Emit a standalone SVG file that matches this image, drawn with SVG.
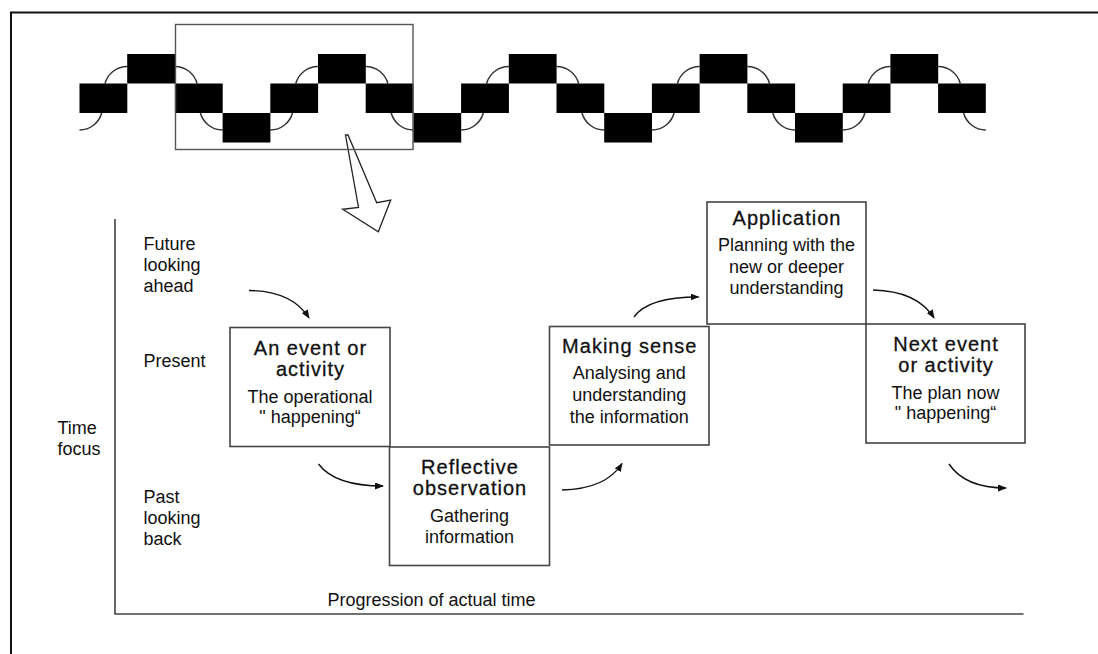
<svg xmlns="http://www.w3.org/2000/svg" width="1098" height="654" viewBox="0 0 1098 654">
  <defs>
    <style>
      .blk { fill: #000; }
      .arc { fill: none; stroke: #333; stroke-width: 1.5; }
      .box { fill: #fff; stroke: #444; stroke-width: 1.6; }
      .ttl { font-family: "Liberation Sans", Arial, sans-serif; font-size: 20px; letter-spacing: 1px; fill: #111; stroke: #111; stroke-width: 0.3; text-anchor: middle; }
      .sub { font-family: "Liberation Sans", Arial, sans-serif; font-size: 18px; fill: #111; text-anchor: middle; }
      .lbl { font-family: "Liberation Sans", Arial, sans-serif; font-size: 18px; fill: #111; }
      .con { fill: none; stroke: #111; stroke-width: 1.4; marker-end: url(#ah); }
      .axis { fill: none; stroke: #444; stroke-width: 1.6; }
    </style>
    <marker id="ah" markerWidth="9" markerHeight="7" refX="8" refY="3.5" orient="auto" markerUnits="userSpaceOnUse">
      <path d="M0,0 L9,3.5 L0,7 z" fill="#111"/>
    </marker>
  </defs>
  <rect x="0" y="0" width="1098" height="654" fill="#fff"/>
  <!-- outer frame -->
  <path d="M11,654 V12.5 H1098" fill="none" stroke="#111" stroke-width="2"/>

  <!-- top strip -->
  <g id="strip">
    <g class="arcs">
      <path class="arc" d="M79.5,130 A23,23 0 0 0 101.7,113"/>
      <path class="arc" d="M105,83.5 A23,23 0 0 1 127.2,66.5"/>
      <path class="arc" d="M174.9,66.5 A23,23 0 0 1 197.1,83.5"/>
      <path class="arc" d="M200.4,113 A23,23 0 0 0 222.6,130"/>
      <path class="arc" d="M270.3,130 A23,23 0 0 0 292.5,113"/>
      <path class="arc" d="M295.8,83.5 A23,23 0 0 1 318,66.5"/>
      <path class="arc" d="M365.7,66.5 A23,23 0 0 1 387.9,83.5"/>
      <path class="arc" d="M391.2,113 A23,23 0 0 0 413.4,130"/>
      <path class="arc" d="M461.1,130 A23,23 0 0 0 483.3,113"/>
      <path class="arc" d="M486.6,83.5 A23,23 0 0 1 508.8,66.5"/>
      <path class="arc" d="M556.5,66.5 A23,23 0 0 1 578.7,83.5"/>
      <path class="arc" d="M582,113 A23,23 0 0 0 604.2,130"/>
      <path class="arc" d="M651.9,130 A23,23 0 0 0 674.1,113"/>
      <path class="arc" d="M677.4,83.5 A23,23 0 0 1 699.6,66.5"/>
      <path class="arc" d="M747.3,66.5 A23,23 0 0 1 769.5,83.5"/>
      <path class="arc" d="M772.8,113 A23,23 0 0 0 795,130"/>
      <path class="arc" d="M842.7,130 A23,23 0 0 0 864.9,113"/>
      <path class="arc" d="M868.2,83.5 A23,23 0 0 1 890.4,66.5"/>
      <path class="arc" d="M938.1,66.5 A23,23 0 0 1 960.3,83.5"/>
      <path class="arc" d="M963.6,113 A23,23 0 0 0 985.8,130"/>
    </g>
    <g class="blocks">
      <rect class="blk" x="79.5" y="83.5" width="47.8" height="29.5"/>
      <rect class="blk" x="127.2" y="54" width="47.8" height="29.5"/>
      <rect class="blk" x="174.9" y="83.5" width="47.8" height="29.5"/>
      <rect class="blk" x="222.6" y="113" width="47.8" height="29.5"/>
      <rect class="blk" x="270.3" y="83.5" width="47.8" height="29.5"/>
      <rect class="blk" x="318" y="54" width="47.8" height="29.5"/>
      <rect class="blk" x="365.7" y="83.5" width="47.8" height="29.5"/>
      <rect class="blk" x="413.4" y="113" width="47.8" height="29.5"/>
      <rect class="blk" x="461.1" y="83.5" width="47.8" height="29.5"/>
      <rect class="blk" x="508.8" y="54" width="47.8" height="29.5"/>
      <rect class="blk" x="556.5" y="83.5" width="47.8" height="29.5"/>
      <rect class="blk" x="604.2" y="113" width="47.8" height="29.5"/>
      <rect class="blk" x="651.9" y="83.5" width="47.8" height="29.5"/>
      <rect class="blk" x="699.6" y="54" width="47.8" height="29.5"/>
      <rect class="blk" x="747.3" y="83.5" width="47.8" height="29.5"/>
      <rect class="blk" x="795" y="113" width="47.8" height="29.5"/>
      <rect class="blk" x="842.7" y="83.5" width="47.8" height="29.5"/>
      <rect class="blk" x="890.4" y="54" width="47.8" height="29.5"/>
      <rect class="blk" x="938.1" y="83.5" width="47.7" height="29.5"/>
    </g>
    <!-- hollow zoom arrow -->
    <polygon points="345.5,135 358.5,207.5 342.7,209.3 378.3,231.7 390.7,200 376.7,202.7 348,135" fill="#fff" stroke="#222" stroke-width="1.3" stroke-linejoin="miter"/>
    <!-- highlight frame -->
    <rect x="175.5" y="24.5" width="237.5" height="125" fill="none" stroke="#555" stroke-width="1.4"/>
  </g>

  <!-- axes -->
  <g id="axes">
    <path class="axis" d="M115,219 V614 H1023.5"/>
    <text class="lbl" x="57.5" y="434">Time</text>
    <text class="lbl" x="57.5" y="455">focus</text>
    <text class="lbl" x="143.5" y="249.5">Future</text>
    <text class="lbl" x="143.5" y="270.5">looking</text>
    <text class="lbl" x="143.5" y="291.5">ahead</text>
    <text class="lbl" x="143.5" y="366.5">Present</text>
    <text class="lbl" x="143.5" y="503">Past</text>
    <text class="lbl" x="143.5" y="524">looking</text>
    <text class="lbl" x="143.5" y="545">back</text>
    <text class="lbl" x="327.5" y="606" font-size="18.5">Progression of actual time</text>
  </g>

  <!-- nodes -->
  <g id="node-event">
    <rect class="box" x="230" y="327.5" width="160" height="119"/>
    <text class="ttl" x="310.5" y="355">An event or</text>
    <text class="ttl" x="310.5" y="375.5">activity</text>
    <text class="sub" x="310" y="402.5">The operational</text>
    <text class="sub" x="310" y="422.5">" happening“</text>
  </g>
  <g id="node-reflective">
    <rect class="box" x="389.5" y="447" width="160" height="118.5"/>
    <text class="ttl" x="470" y="473.5">Reflective</text>
    <text class="ttl" x="470" y="495">observation</text>
    <text class="sub" x="469.5" y="521.5">Gathering</text>
    <text class="sub" x="469.5" y="543">information</text>
  </g>
  <g id="node-making-sense">
    <rect class="box" x="549.5" y="326.5" width="159.5" height="118.5"/>
    <text class="ttl" x="629.8" y="353.3">Making sense</text>
    <text class="sub" x="629.3" y="379.3">Analysing and</text>
    <text class="sub" x="629.3" y="400.7">understanding</text>
    <text class="sub" x="629.3" y="422.5">the information</text>
  </g>
  <g id="node-application">
    <rect class="box" x="707" y="202" width="159" height="122"/>
    <text class="ttl" x="787" y="225">Application</text>
    <text class="sub" x="786.5" y="250.7">Planning with the</text>
    <text class="sub" x="786.5" y="272.5">new or deeper</text>
    <text class="sub" x="786.5" y="294.3">understanding</text>
  </g>
  <g id="node-next-event">
    <rect class="box" x="866" y="324" width="159" height="119"/>
    <text class="ttl" x="946" y="350.5">Next event</text>
    <text class="ttl" x="946" y="371.5">or activity</text>
    <text class="sub" x="945.5" y="398.5">The plan now</text>
    <text class="sub" x="945.5" y="418.5">" happening“</text>
  </g>

  <!-- connectors -->
  <g id="connectors">
    <path class="con" d="M249,290.5 Q292,291 309,318"/>
    <path class="con" d="M318.5,464 Q335,486 383,486"/>
    <path class="con" d="M562,490 Q606,489 622,463.5"/>
    <path class="con" d="M634,317 Q648,297 698.5,297"/>
    <path class="con" d="M873,290 Q917,291 934,318"/>
    <path class="con" d="M949,464 Q965,488 1006,488"/>
  </g>
</svg>
